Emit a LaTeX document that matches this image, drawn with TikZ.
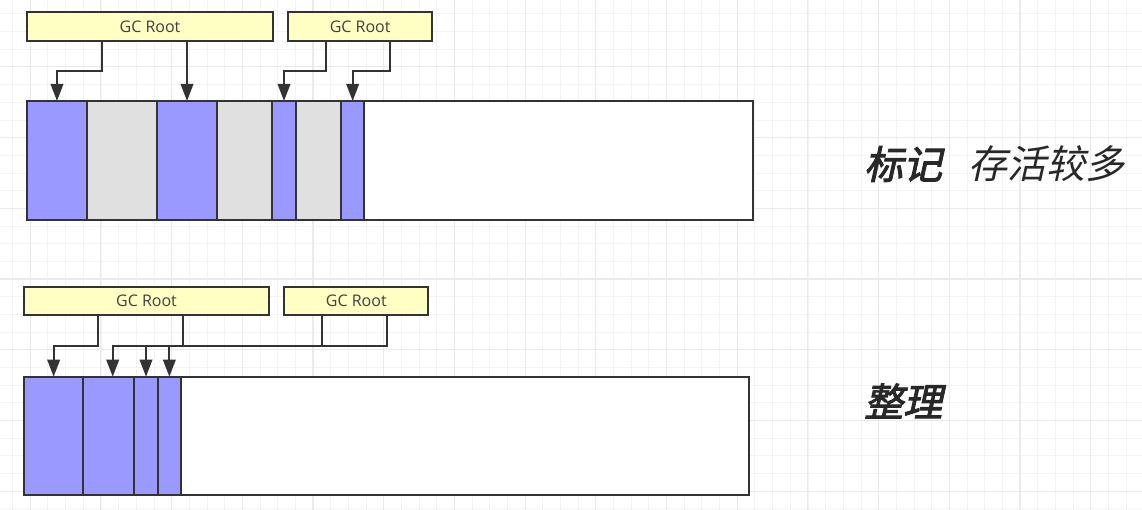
\documentclass[tikz,border=0pt]{standalone}
\usepackage{fontspec}
\setmainfont{Open Sans}
\newfontfamily\cjkbi[FakeSlant=0.22,FakeBold=2.5]{Noto Sans CJK SC}
\newfontfamily\cjki[FakeSlant=0.22]{Noto Sans CJK SC}
\usetikzlibrary{arrows.meta,calc}
\definecolor{gridminor}{RGB}{243,243,243}
\definecolor{gridmajor}{RGB}{234,234,234}
\definecolor{edge}{RGB}{51,51,51}
\definecolor{live}{RGB}{153,153,255}
\definecolor{dead}{RGB}{224,224,224}
\definecolor{rootfill}{RGB}{255,255,196}
\definecolor{txt}{RGB}{40,40,40}
\tikzset{
  cellbase/.style={draw=edge, line width=1.8pt, inner sep=0pt, outer sep=0pt, anchor=north west},
  livecell/.style={cellbase, fill=live},
  deadcell/.style={cellbase, fill=dead},
  freecell/.style={cellbase, fill=white},
  rootbox/.style={draw=edge, line width=1.8pt, fill=rootfill, inner sep=0pt, outer sep=0pt, anchor=north west,
    minimum height=28.7pt, font=\fontsize{16}{18}\selectfont, text=black!75},
  conn/.style={draw=edge, line width=1.9pt},
  arr/.style={conn, -{Triangle[length=17pt,width=12.5pt]}},
  heading/.style={anchor=west, inner sep=0pt, text=txt, font=\fontsize{39}{41}\selectfont},
}
\begin{document}
\begin{tikzpicture}[x=1pt,y=-1pt]
\useasboundingbox (0,0) rectangle (1142,510);
\fill[white] (0,0) rectangle (1142,510);
% grid
\foreach \k in {-1,...,62} {
  \draw[gridminor, line width=0.8pt] ({30.2+17.675*\k},0) -- ({30.2+17.675*\k},510);
}
\foreach \k in {1,...,29} {
  \draw[gridminor, line width=0.8pt] (0,{-3.8+17.675*\k}) -- (1142,{-3.8+17.675*\k});
}
\foreach \m in {0,...,15} {
  \draw[gridmajor, line width=1.1pt] ({30.2+70.7*\m},0) -- ({30.2+70.7*\m},510);
}
\foreach \m in {1,...,7} {
  \draw[gridmajor, line width=1.1pt] (0,{-3.8+70.7*\m}) -- (1142,{-3.8+70.7*\m});
}

% ---------- top panel: mark ----------
\node[rootbox, minimum width=245.4pt] (gc1) at (27.3,12) {GC Root};
\node[rootbox, minimum width=144.3pt] (gc2) at (288,12) {GC Root};

\node[livecell, minimum width=59.4pt, minimum height=119pt] (c1) at (27.3,101) {};
\node[deadcell, minimum width=70.6pt, minimum height=119pt] (c2) at (86.7,101) {};
\node[livecell, minimum width=59.4pt, minimum height=119pt] (c3) at (157.3,101) {};
\node[deadcell, minimum width=55.6pt, minimum height=119pt] (c4) at (216.7,101) {};
\node[livecell, minimum width=23.4pt, minimum height=119pt] (c5) at (272.3,101) {};
\node[deadcell, minimum width=45.3pt, minimum height=119pt] (c6) at (295.7,101) {};
\node[livecell, minimum width=23.3pt, minimum height=119pt] (c7) at (341,101) {};
\node[freecell, minimum width=388.4pt, minimum height=119pt] (c8) at (364.3,101) {};

\draw[arr] ($(gc1.south west)+(75,0)$) -- ++(0,30) -| (c1.north);
\draw[arr] (c3.north |- gc1.south) -- (c3.north);
\draw[arr] ($(gc2.south west)+(37.7,0)$) -- ++(0,30) -| (c5.north);
\draw[arr] ($(gc2.south west)+(102,0)$) -- ++(0,30) -| (c7.north);

\node[heading] (mark) at (864,164) {{\cjkbi 标记}\hspace{26pt}{\cjki 存活较多}};

% ---------- bottom panel: compact ----------
\node[rootbox, minimum width=245pt] (gc3) at (24,286.7) {GC Root};
\node[rootbox, minimum width=144pt] (gc4) at (284.3,286.7) {GC Root};

\node[livecell, minimum width=59.3pt, minimum height=118.3pt] (d1) at (24,376.7) {};
\node[livecell, minimum width=51pt, minimum height=118.3pt] (d2) at (83.3,376.7) {};
\node[livecell, minimum width=23.4pt, minimum height=118.3pt] (d3) at (134.3,376.7) {};
\node[livecell, minimum width=23.3pt, minimum height=118.3pt] (d4) at (157.7,376.7) {};
\node[freecell, minimum width=568.3pt, minimum height=118.3pt] (d5) at (181,376.7) {};

\coordinate (j) at (112.7,346);
\coordinate (d2t) at (112.7,376.7);
\draw[arr] ($(gc3.south west)+(74.3,0)$) -- ++(0,30.7) -| (d1.north);
\draw[conn] ($(gc3.south west)+(159.3,0)$) -- ++(0,30.7);
\draw[conn] ($(gc4.south west)+(37.4,0)$) -- ++(0,30.7);
\draw[arr] ($(gc4.south west)+(102.4,0)$) |- (j) -- (d2t);
\draw[arr] (d3.north |- j) -- (d3.north);
\draw[arr] (d4.north |- j) -- (d4.north);

\node[heading] (tidy) at (864,401) {\cjkbi 整理};
\end{tikzpicture}
\end{document}
